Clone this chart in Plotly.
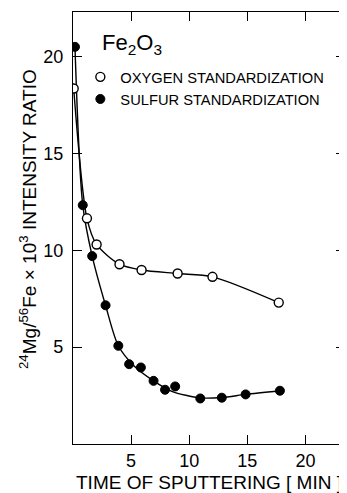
import plotly.graph_objects as go

oxy_t = [0.06, 1.2, 2.03, 4.0, 5.9, 9.0, 12.0, 17.7]
oxy_ratio = [18.35, 11.65, 10.3, 9.28, 8.98, 8.8, 8.63, 7.3]

sul_t = [0.17, 0.84, 1.65, 2.8, 3.9, 4.83, 5.84, 6.93, 7.92, 8.79, 10.95, 12.8, 14.85, 17.8]
sul_ratio = [20.5, 12.33, 9.7, 7.16, 5.07, 4.12, 3.95, 3.26, 2.8, 2.97, 2.35, 2.39, 2.56, 2.75]

# hand-drawn smooth curve through the sulfur points
sul_fit_t = [0.17, 0.84, 1.65, 2.8, 3.9, 5.3, 6.93, 8.5, 10.95, 12.8, 14.85, 17.8]
sul_fit_ratio = [20.5, 12.33, 9.7, 7.16, 5.07, 4.0, 3.26, 2.72, 2.38, 2.4, 2.56, 2.75]

ticks = [5, 10, 15, 20]
FONT = "Liberation Sans, Arial, sans-serif"

fig = go.Figure()

fig.add_trace(go.Scatter(
    x=oxy_t, y=oxy_ratio, mode='lines',
    line=dict(color='black', width=1.4, shape='spline', smoothing=0.8),
    showlegend=False, hoverinfo='skip'
))
fig.add_trace(go.Scatter(
    x=sul_fit_t, y=sul_fit_ratio, mode='lines',
    line=dict(color='black', width=1.4, shape='spline', smoothing=0.8),
    showlegend=False, hoverinfo='skip'
))
fig.add_trace(go.Scatter(
    x=oxy_t, y=oxy_ratio, mode='markers',
    name='OXYGEN STANDARDIZATION',
    marker=dict(symbol='circle', size=9, color='white', line=dict(color='black', width=1.4))
))
fig.add_trace(go.Scatter(
    x=sul_t, y=sul_ratio, mode='markers',
    name='SULFUR STANDARDIZATION',
    marker=dict(symbol='circle', size=9, color='black', line=dict(color='black', width=1))
))

fig.add_annotation(
    x=0.1, y=0.925, xref='paper', yref='paper', xanchor='left', yanchor='middle',
    text='Fe<sub>2</sub>O<sub>3</sub>', showarrow=False,
    font=dict(family=FONT, size=22, color='black')
)
# y-axis title placed by hand so it sits where the original has it
fig.add_annotation(
    x=-0.165, y=0.521, xref='paper', yref='paper', xanchor='center', yanchor='middle',
    text='<sup>24</sup>Mg/<sup>56</sup>Fe × 10<sup>3</sup> INTENSITY RATIO',
    textangle=-90, showarrow=False,
    font=dict(family=FONT, size=19, color='black')
)

# the page body has an 8px margin, so the figure is 8px smaller each way
fig.update_layout(
    width=339, height=485,
    margin=dict(l=65, r=2, t=4, b=49),
    plot_bgcolor='white', paper_bgcolor='white',
    font=dict(family=FONT, color='black'),
    legend=dict(
        x=0.027, y=0.887, xanchor='left', yanchor='top',
        bgcolor='rgba(0,0,0,0)', font=dict(size=14.7, family=FONT),
        itemwidth=30, tracegroupgap=0
    ),
    xaxis=dict(
        range=[0, 23.4], tickvals=ticks, ticks='inside', ticklen=9, tickwidth=1.3,
        tickcolor='black', showline=True, linecolor='black', linewidth=1.2,
        mirror='ticks', showgrid=False, zeroline=False, automargin=False,
        tickfont=dict(size=18),
        title=dict(text='TIME OF SPUTTERING [ MIN ]', font=dict(size=19), standoff=6)
    ),
    yaxis=dict(
        range=[0, 22.3], tickvals=ticks, ticks='inside', ticklen=9, tickwidth=1.3,
        tickcolor='black', showline=True, linecolor='black', linewidth=1.2,
        mirror='ticks', showgrid=False, zeroline=False, automargin=False,
        tickfont=dict(size=18), ticklabelstandoff=5
    ),
)

fig.write_html("out.html")
